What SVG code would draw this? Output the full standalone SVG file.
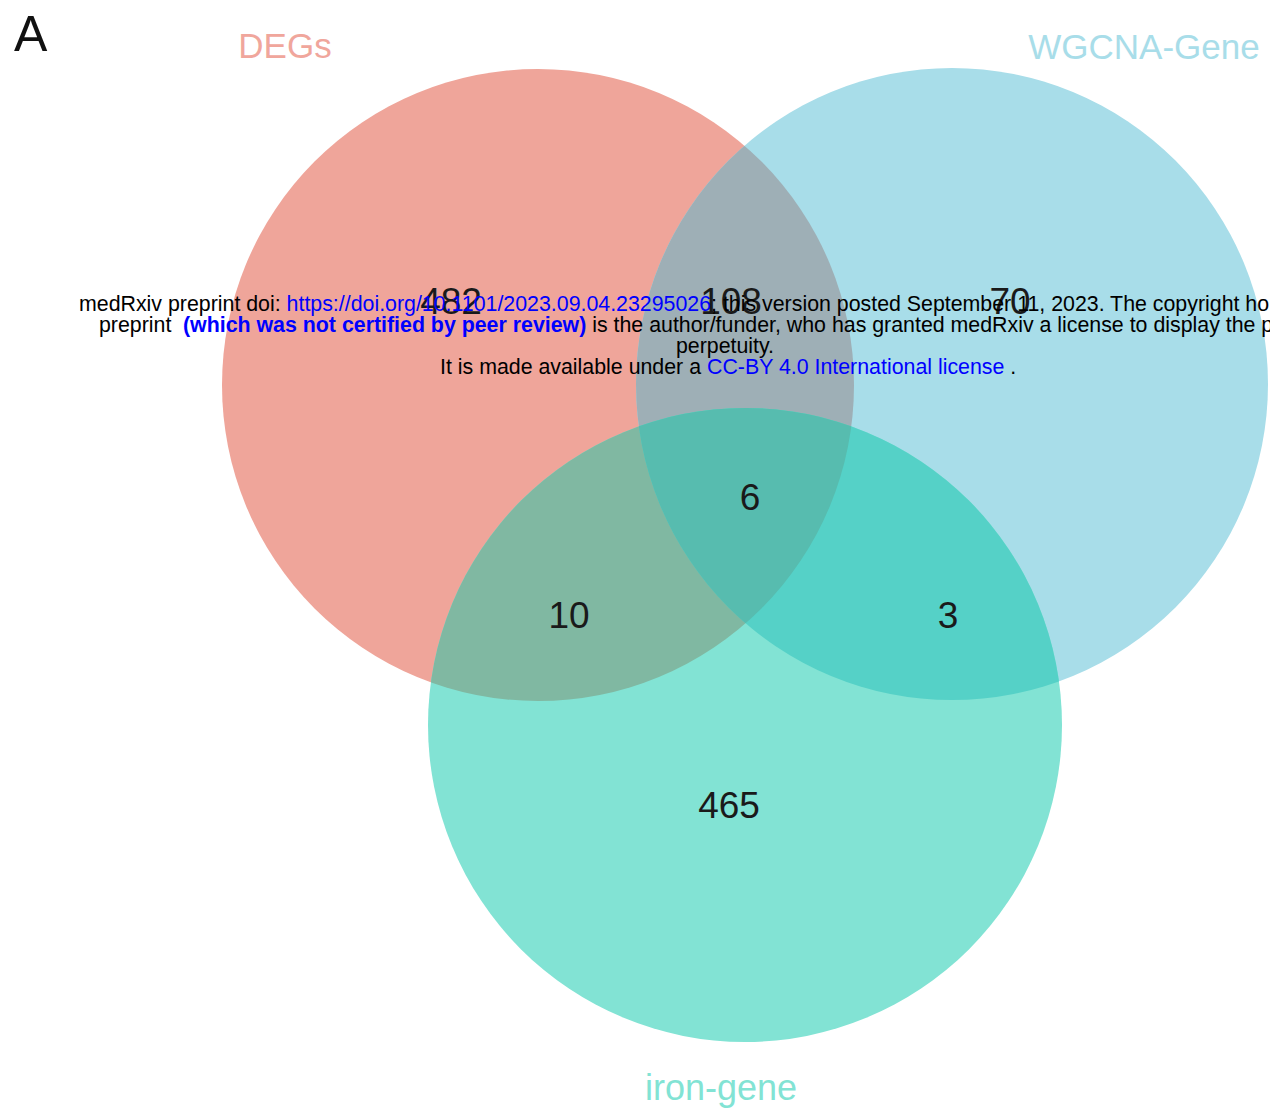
<svg xmlns="http://www.w3.org/2000/svg" width="1270" height="1114" viewBox="0 0 1270 1114">
<style>
.lbl{font-family:"Liberation Sans",Arial,sans-serif;}
.num{font-family:"Liberation Sans",Arial,sans-serif;font-size:37px;fill:#1a1a1a;text-anchor:middle;}
.hdr{font-family:"Liberation Sans",Arial,sans-serif;font-size:21.35px;fill:#000;}
.lnk{fill:#0000ff;}
</style>
<defs>
<circle id="cR" cx="538" cy="385" r="316"/>
<circle id="cB" cx="952" cy="384" r="316"/>
<circle id="cG" cx="745" cy="725" r="317"/>
<clipPath id="clipR"><use href="#cR"/></clipPath>
<clipPath id="clipB"><use href="#cB"/></clipPath>
<clipPath id="clipG"><use href="#cG"/></clipPath>
</defs>
<rect width="1270" height="1114" fill="#ffffff"/>
<g id="node-DEGs">
<use href="#cR" fill="#EFA59A"/>
</g>
<g id="node-WGCNA">
<use href="#cB" fill="#A8DDE9"/>
<g clip-path="url(#clipR)"><use href="#cB" fill="#9EAFB6"/></g>
</g>
<g id="node-iron">
<use href="#cG" fill="#82E3D4"/>
<g clip-path="url(#clipR)"><use href="#cG" fill="#80B8A2"/></g>
<g clip-path="url(#clipB)"><use href="#cG" fill="#55D1C7"/></g>
<g clip-path="url(#clipB)"><g clip-path="url(#clipR)"><use href="#cG" fill="#57BCAF"/></g></g>
</g>
<g id="connectors"></g>
<g id="labels">
<text class="lbl" x="14" y="51" font-size="50" fill="#111">A</text>
<text class="lbl" x="285" y="58" font-size="35" fill="#F0A69C" text-anchor="middle">DEGs</text>
<text class="lbl" x="1144" y="59" font-size="35" fill="#A8DDE9" text-anchor="middle">WGCNA-Gene</text>
<text class="lbl" x="721" y="1100" font-size="36" fill="#82E3D4" text-anchor="middle">iron-gene</text>
</g>
<g id="counts">
<text class="num" x="451" y="314">482</text>
<text class="num" x="731" y="314">108</text>
<text class="num" x="1010" y="314">70</text>
<text class="num" x="750" y="510">6</text>
<text class="num" x="569" y="628">10</text>
<text class="num" x="948" y="628">3</text>
<text class="num" x="729" y="818">465</text>
</g>
<g id="header">
<text class="hdr" x="79" y="311">medRxiv preprint doi: <tspan class="lnk">https://doi.org/10.1101/2023.09.04.23295026</tspan>; this version posted September 11, 2023. The copyright ho</text>
<text class="hdr" x="99" y="332">preprint <tspan class="lnk" font-weight="bold" x="183">(which was not certified by peer review)</tspan> is the author/funder, who has granted medRxiv a license to display the p</text>
<text class="hdr" x="725" y="353" text-anchor="middle">perpetuity.</text>
<text class="hdr" x="440" y="374">It is made available under a <tspan class="lnk">CC-BY 4.0 International license</tspan> .</text>
</g>
</svg>
